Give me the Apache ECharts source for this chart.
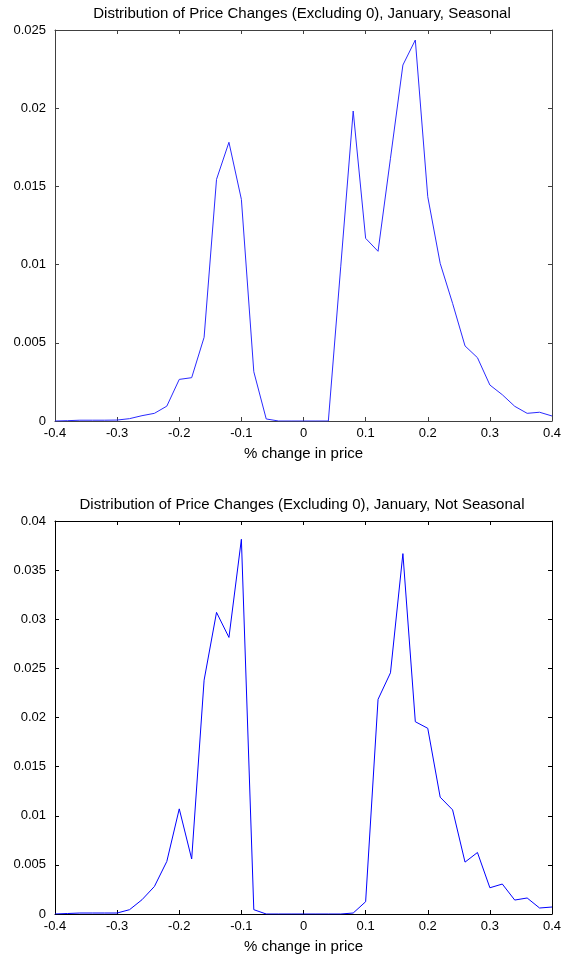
<!DOCTYPE html>
<html>
<head>
<meta charset="utf-8">
<script src="https://cdn.jsdelivr.net/npm/echarts@6/dist/echarts.min.js"></script>
<style>
  html, body { margin: 0; padding: 0; background: #fff; }
  #chart { width: 561px; height: 958px; }
</style>
</head>
<body>
<div id="chart"></div>
<script>
// x positions of the distribution points (% change in price)
const xValues = [
  -0.4, -0.38, -0.36, -0.34, -0.32, -0.3, -0.28, -0.26, -0.24, -0.22,
  -0.2, -0.18, -0.16, -0.14, -0.12, -0.1, -0.08, -0.06, -0.04, -0.02,
  0, 0.02, 0.04, 0.06, 0.08, 0.1, 0.12, 0.14, 0.16, 0.18,
  0.2, 0.22, 0.24, 0.26, 0.28, 0.3, 0.32, 0.34, 0.36, 0.38, 0.4
]

// January, Seasonal
const seasonal = [
  0, 0.00002, 0.00005, 0.00005, 0.00005, 0.00006, 0.00015, 0.00034, 0.00049, 0.00095,
  0.00266, 0.00277, 0.00535, 0.01545, 0.01782, 0.01417, 0.00315, 0.00013, 0, 0,
  0, 0, 0, 0.0099, 0.01982, 0.01168, 0.01085, 0.0168, 0.02276, 0.02436,
  0.01434, 0.01008, 0.00752, 0.0048, 0.00405, 0.0023, 0.00168, 0.00094, 0.00049, 0.00056, 0.00032
]

// January, Not Seasonal
const notSeasonal = [
  0, 0.00005, 0.0001, 0.0001, 0.0001, 0.0001, 0.00044, 0.00145, 0.0028, 0.00535,
  0.0107, 0.0056, 0.0238, 0.0307, 0.02815, 0.03814, 0.00044, 0, 0, 0,
  0, 0, 0, 0, 0.0001, 0.00125, 0.02185, 0.02455, 0.03668, 0.01957,
  0.0189, 0.01189, 0.0106, 0.00528, 0.00626, 0.00267, 0.00305, 0.00142, 0.00163, 0.00061, 0.00071
]

const titles = [
  'Distribution of Price Changes (Excluding 0), January, Seasonal',
  'Distribution of Price Changes (Excluding 0), January, Not Seasonal'
]
const xName = '% change in price'
const xTicks = { min: -0.4, max: 0.4, interval: 0.1 }
const yTicks = [
  { min: 0, max: 0.025, interval: 0.005 },
  { min: 0, max: 0.04, interval: 0.005 }
]

const font = 'Liberation Sans, Arial, sans-serif'
const frameColor = ['#404040', '#000000']
const lineColor = ['#2a2aff', '#0000ff']

function frameLine(i) {
  return { show: true, onZero: false, lineStyle: { color: frameColor[i], width: 1 } }
}
function innerTick(i) {
  return { show: true, inside: true, length: 4, lineStyle: { color: frameColor[i] } }
}

const xAxes = []
const yAxes = []
const seriesList = []
;[seasonal, notSeasonal].forEach((vals, i) => {
  xAxes.push({
    gridIndex: i,
    type: 'value',
    ...xTicks,
    name: xName,
    nameLocation: 'middle',
    nameGap: 25,
    nameTextStyle: { fontFamily: font, fontSize: 15, color: '#000' },
    axisLine: frameLine(i),
    axisTick: innerTick(i),
    axisLabel: { fontFamily: font, fontSize: 13, color: '#000', margin: 6, showMinLabel: true, showMaxLabel: true },
    splitLine: { show: false }
  })
  xAxes.push({
    gridIndex: i,
    type: 'value',
    position: 'top',
    ...xTicks,
    axisLine: frameLine(i),
    axisTick: innerTick(i),
    axisLabel: { show: false },
    splitLine: { show: false }
  })
  yAxes.push({
    gridIndex: i,
    type: 'value',
    ...yTicks[i],
    axisLine: frameLine(i),
    axisTick: innerTick(i),
    axisLabel: { fontFamily: font, fontSize: 13, color: '#000', margin: 9 },
    splitLine: { show: false }
  })
  yAxes.push({
    gridIndex: i,
    type: 'value',
    position: 'right',
    ...yTicks[i],
    axisLine: frameLine(i),
    axisTick: innerTick(i),
    axisLabel: { show: false },
    splitLine: { show: false }
  })
  seriesList.push({
    type: 'line',
    xAxisIndex: i * 2,
    yAxisIndex: i * 2,
    symbol: 'none',
    smooth: false,
    lineStyle: { color: lineColor[i], width: 1 },
    data: xValues.map((x, k) => [x, vals[k]])
  })
})

const chart = echarts.init(document.getElementById('chart'))
chart.setOption({
  animation: false,
  backgroundColor: '#fff',
  title: [
    {
      text: titles[0], left: 302, top: 6, textAlign: 'center', padding: 0,
      textStyle: { fontFamily: font, fontSize: 15, fontWeight: 'normal', color: '#000' }
    },
    {
      text: titles[1], left: 302, top: 497, textAlign: 'center', padding: 0,
      textStyle: { fontFamily: font, fontSize: 15, fontWeight: 'normal', color: '#000' }
    }
  ],
  grid: [
    { left: 55, right: 9, top: 30, height: 391, outerBoundsMode: 'none' },
    { left: 55, right: 9, top: 521, height: 393, outerBoundsMode: 'none' }
  ],
  xAxis: xAxes,
  yAxis: yAxes,
  series: seriesList
})
</script>
</body>
</html>
